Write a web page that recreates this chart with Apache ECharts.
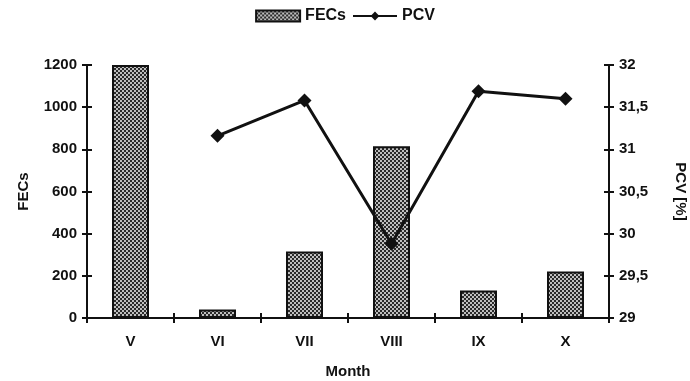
<!DOCTYPE html>
<html>
<head>
<meta charset="utf-8">
<script src="https://cdn.jsdelivr.net/npm/echarts@6/dist/echarts.min.js"></script>
<style>
html,body{margin:0;padding:0;background:#fff;}
#chart{width:690px;height:381px;}
</style>
</head>
<body>
<div id="chart"></div>
<script>
const categories = ['V', 'VI', 'VII', 'VIII', 'IX', 'X'];
const fecsValues = [1200, 40, 315, 815, 130, 220];
const pcvValues = [null, 31.16, 31.58, 29.88, 31.69, 31.6];
const leftTicks = { min: 0, max: 1200, interval: 200 };
const rightTicks = { min: 29, max: 32, interval: 0.5 };

function makePattern() {
  const c = document.createElement('canvas');
  c.width = 4; c.height = 4;
  const g = c.getContext('2d');
  g.fillStyle = '#2a2a2a';
  g.fillRect(0, 0, 4, 4);
  g.fillStyle = '#ffffff';
  g.beginPath(); g.arc(1, 1, 0.95, 0, Math.PI * 2); g.fill();
  g.beginPath(); g.arc(3, 3, 0.95, 0, Math.PI * 2); g.fill();
  return c;
}
const pattern = { image: makePattern(), repeat: 'repeat' };

const font = 'Liberation Sans, Arial, sans-serif';
const labelStyle = { color: '#111', fontFamily: font, fontWeight: 'bold', fontSize: 15 };
const axLine = { show: true, lineStyle: { color: '#111', width: 2 } };

const chart = echarts.init(document.getElementById('chart'), null, { renderer: 'canvas' });
chart.setOption({
  animation: false,
  backgroundColor: '#fff',
  legend: {
    top: 3,
    left: 'center',
    itemWidth: 44,
    itemHeight: 11,
    itemGap: 6,
    textStyle: { color: '#111', fontFamily: font, fontWeight: 'bold', fontSize: 16 },
    data: [
      { name: 'FECs', icon: 'rect' },
      { name: 'PCV' }
    ]
  },
  grid: { left: 87, right: 81, top: 65, bottom: 63, containLabel: false, outerBoundsMode: 'none' },
  xAxis: [
    {
      type: 'category',
      data: categories,
      name: 'Month',
      nameLocation: 'middle',
      nameGap: 46,
      nameTextStyle: labelStyle,
      axisLine: axLine,
      axisTick: { show: true, length: 5, lineStyle: { color: '#111', width: 2 } },
      axisLabel: Object.assign({ margin: 16 }, labelStyle)
    },
    {
      type: 'category',
      data: categories,
      position: 'bottom',
      axisLine: { show: false },
      axisTick: { show: true, inside: true, length: 5, lineStyle: { color: '#111', width: 2 } },
      axisLabel: { show: false }
    }
  ],
  yAxis: [
    {
      type: 'value',
      min: leftTicks.min, max: leftTicks.max, interval: leftTicks.interval,
      name: 'FECs',
      nameLocation: 'middle',
      nameGap: 56,
      nameRotate: 90,
      nameTextStyle: labelStyle,
      axisLine: axLine,
      axisTick: { show: true, length: 5, lineStyle: { color: '#111', width: 2 } },
      axisLabel: Object.assign({ margin: 10, formatter: v => String(v) }, labelStyle),
      splitLine: { show: false }
    },
    {
      type: 'value',
      position: 'right',
      min: rightTicks.min, max: rightTicks.max, interval: rightTicks.interval,
      name: 'PCV [%]',
      nameLocation: 'middle',
      nameGap: 64,
      nameRotate: -90,
      nameTextStyle: labelStyle,
      axisLine: axLine,
      axisTick: { show: true, length: 5, lineStyle: { color: '#111', width: 2 } },
      axisLabel: Object.assign({ margin: 10, formatter: v => String(v).replace('.', ',') }, labelStyle),
      splitLine: { show: false }
    },
    {
      type: 'value',
      position: 'left',
      min: leftTicks.min, max: leftTicks.max, interval: leftTicks.interval,
      axisLine: { show: false },
      axisTick: { show: true, inside: true, length: 5, lineStyle: { color: '#111', width: 2 } },
      axisLabel: { show: false },
      splitLine: { show: false }
    },
    {
      type: 'value',
      position: 'right',
      min: rightTicks.min, max: rightTicks.max, interval: rightTicks.interval,
      axisLine: { show: false },
      axisTick: { show: true, inside: true, length: 5, lineStyle: { color: '#111', width: 2 } },
      axisLabel: { show: false },
      splitLine: { show: false }
    }
  ],
  series: [
    {
      name: 'FECs',
      type: 'bar',
      xAxisIndex: 0,
      yAxisIndex: 0,
      data: fecsValues,
      barWidth: 37,
      itemStyle: { color: pattern, borderColor: '#111', borderWidth: 2 },
      z: 2
    },
    {
      name: 'PCV',
      type: 'line',
      xAxisIndex: 0,
      yAxisIndex: 1,
      data: pcvValues,
      symbol: 'diamond',
      symbolSize: 14,
      showSymbol: true,
      lineStyle: { color: '#111', width: 3 },
      itemStyle: { color: '#111' },
      z: 5
    }
  ]
});
</script>
</body>
</html>
